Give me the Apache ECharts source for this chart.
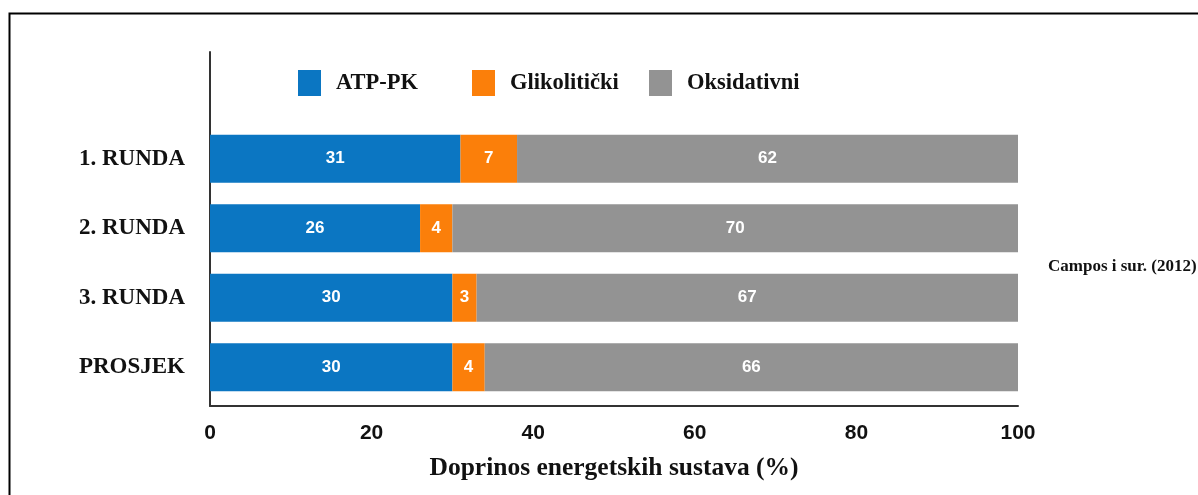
<!DOCTYPE html>
<html>
<head>
<meta charset="utf-8">
<script src="https://cdn.jsdelivr.net/npm/echarts@6/dist/echarts.min.js"></script>
<style>html,body{margin:0;padding:0;background:#fff;}#c{width:1198px;height:495px;}</style>
</head>
<body>
<div id="c"></div>
<script>
const categories = ['1. RUNDA', '2. RUNDA', '3. RUNDA', 'PROSJEK'];
const atpPk = [31, 26, 30, 30];
const glikoliticki = [7, 4, 3, 4];
const oksidativni = [62, 70, 67, 66];
const xTicks = [0, 20, 40, 60, 80, 100];
const seriesNames = ['ATP-PK', 'Glikolitički', 'Oksidativni'];
const colors = ['#0b76c2', '#fb7f0a', '#939393'];

const serif = '"Liberation Serif", "DejaVu Serif", serif';
const sans = '"Liberation Sans", Arial, sans-serif';

const chart = echarts.init(document.getElementById('c'));
function legendFor(i, left) {
  return {
    show: true, data: [seriesNames[i]], left: left, top: 65,
    itemWidth: 23, itemHeight: 26, icon: 'rect',
    textStyle: { fontFamily: serif, fontWeight: 'bold', fontSize: 22.5, color: '#111', padding: [0, 0, 0, 10] }
  };
}
const barLabel = { show: true, position: 'inside', color: '#fff', fontFamily: sans, fontWeight: 'bold', fontSize: 17 };
chart.setOption({
  animation: false,
  backgroundColor: '#fff',
  color: colors,
  title: {
    text: 'Campos i sur. (2012)', left: 1043, top: 253,
    textStyle: { fontFamily: serif, fontWeight: 'bold', fontSize: 17, color: '#111' }
  },
  legend: [legendFor(0, 293), legendFor(1, 467), legendFor(2, 644)],
  graphic: [{
    type: 'rect', left: 7, top: 11, shape: { width: 1210, height: 500 },
    style: { fill: 'none', stroke: '#000', lineWidth: 2 }, silent: true
  }],
  grid: [
    { left: 210, width: 808, top: 124, height: 278 },
    { left: 210, width: 808, top: 52, height: 354 }
  ],
  xAxis: [
    { gridIndex: 0, type: 'value', min: 0, max: 100, show: false },
    {
      gridIndex: 1, type: 'value', min: xTicks[0], max: xTicks[xTicks.length - 1], interval: 20,
      axisLine: { show: true, lineStyle: { color: '#333', width: 2 } },
      axisTick: { show: false }, splitLine: { show: false },
      axisLabel: { margin: 17, fontFamily: sans, fontWeight: 'bold', fontSize: 21, color: '#111' },
      name: 'Doprinos energetskih sustava (%)', nameLocation: 'middle', nameGap: 49,
      nameTextStyle: { fontFamily: serif, fontWeight: 'bold', fontSize: 25.5, color: '#111' }
    }
  ],
  yAxis: [
    {
      gridIndex: 0, type: 'category', data: categories, inverse: true,
      axisLine: { show: false }, axisTick: { show: false },
      axisLabel: { margin: 25, padding: [9, 0, 0, 0], fontFamily: serif, fontWeight: 'bold', fontSize: 23, color: '#111' }
    },
    {
      gridIndex: 1, type: 'value', min: 0, max: 1,
      axisLine: { show: true, lineStyle: { color: '#333', width: 2 } },
      axisTick: { show: false }, axisLabel: { show: false }, splitLine: { show: false }
    }
  ],
  series: [
    { name: seriesNames[0], type: 'bar', stack: 'a', barWidth: 48, data: atpPk, label: barLabel, xAxisIndex: 0, yAxisIndex: 0 },
    { name: seriesNames[1], type: 'bar', stack: 'a', barWidth: 48, data: glikoliticki, label: barLabel, xAxisIndex: 0, yAxisIndex: 0 },
    { name: seriesNames[2], type: 'bar', stack: 'a', barWidth: 48, data: oksidativni, label: barLabel, xAxisIndex: 0, yAxisIndex: 0 }
  ]
});
</script>
</body>
</html>
